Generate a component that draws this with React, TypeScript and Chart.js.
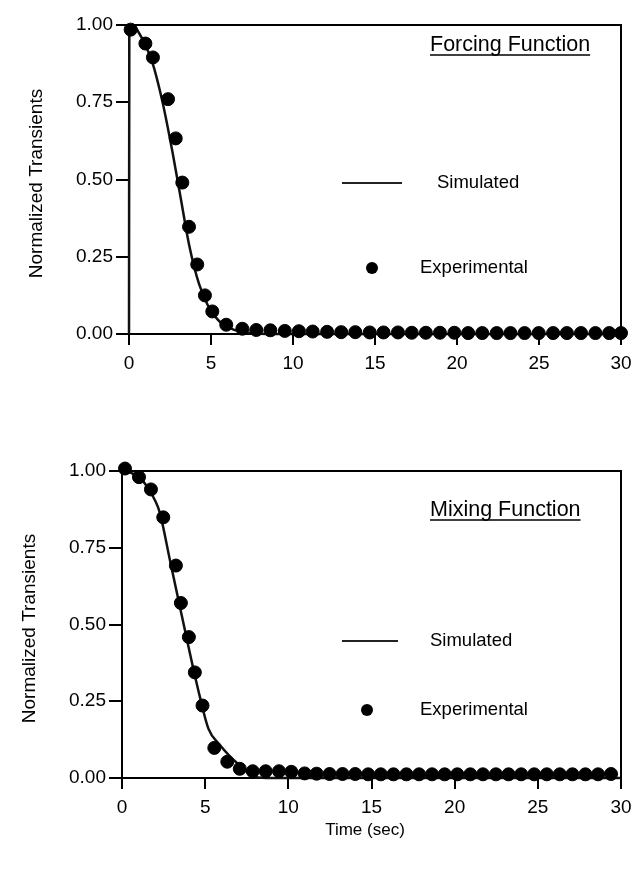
import React, { useEffect, useRef } from "react";
import { Chart, registerables } from "chart.js";
Chart.register(...registerables);

// ---------- DATA ----------
const xTickValues = [0, 5, 10, 15, 20, 25, 30];
const yTickValues = [0, 0.25, 0.5, 0.75, 1.0];
const legendLabels = ["Simulated", "Experimental"];
const panelTitles = ["Forcing Function", "Mixing Function"];
const yAxisTitle = "Normalized Transients";
const xAxisTitle = "Time (sec)";

const forcingSimTime = [0, 0.02, 0.25, 0.6, 1.0, 1.42, 2.03, 2.64, 3.15, 3.66, 4.27, 4.88, 5.49, 6.3, 7.1, 8.0, 10, 15, 20, 25, 30];
const forcingSimValue = [0, 0.99, 1.0, 0.975, 0.935, 0.88, 0.754, 0.592, 0.441, 0.29, 0.162, 0.085, 0.042, 0.016, 0.005, 0.001, 0, 0, 0, 0, 0];

const forcingExpTime = [0.1, 1.0, 1.46, 2.38, 2.85, 3.25, 3.66, 4.16, 4.63, 5.08, 5.93, 6.91, 7.76, 8.62, 9.5, 10.36, 11.2, 12.08, 12.94, 13.8, 14.68, 15.52, 16.4, 17.24, 18.1, 18.96, 19.84, 20.68, 21.54, 22.42, 23.26, 24.12, 24.98, 25.86, 26.7, 27.56, 28.44, 29.28, 30.0];
const forcingExpValue = [0.985, 0.94, 0.895, 0.76, 0.633, 0.49, 0.347, 0.225, 0.125, 0.073, 0.03, 0.017, 0.013, 0.012, 0.01, 0.009, 0.008, 0.007, 0.006, 0.006, 0.005, 0.005, 0.005, 0.004, 0.004, 0.004, 0.004, 0.003, 0.003, 0.003, 0.003, 0.003, 0.003, 0.003, 0.003, 0.003, 0.003, 0.003, 0.003];

const mixingSimTime = [0, 0.5, 1.08, 1.5, 1.98, 2.28, 2.88, 3.48, 4.08, 4.68, 5.2, 5.85, 6.5, 7.0, 7.5, 8.0, 9.0, 15, 20, 25, 30];
const mixingSimValue = [1.0, 0.995, 0.977, 0.95, 0.905, 0.863, 0.71, 0.558, 0.407, 0.265, 0.16, 0.11, 0.07, 0.045, 0.02, 0.003, 0, 0, 0, 0, 0];

const mixingExpTime = [0.18, 1.02, 1.74, 2.48, 3.24, 3.54, 4.02, 4.38, 4.84, 5.55, 6.33, 7.08, 7.86, 8.64, 9.44, 10.18, 10.98, 11.7, 12.48, 13.26, 14.02, 14.8, 15.56, 16.32, 17.1, 17.86, 18.64, 19.4, 20.16, 20.94, 21.7, 22.48, 23.24, 24.0, 24.78, 25.54, 26.32, 27.08, 27.86, 28.62, 29.4];
const mixingExpValue = [1.008, 0.98, 0.94, 0.849, 0.692, 0.57, 0.459, 0.344, 0.236, 0.098, 0.053, 0.03, 0.022, 0.022, 0.022, 0.02, 0.015, 0.014, 0.013, 0.013, 0.013, 0.012, 0.012, 0.012, 0.012, 0.012, 0.012, 0.012, 0.012, 0.012, 0.012, 0.012, 0.012, 0.012, 0.012, 0.012, 0.012, 0.012, 0.012, 0.012, 0.013];

// ---------- LAYOUT ----------
const FONT = "'Liberation Sans', Arial, Helvetica, sans-serif";

type Panel = {
  title: string;
  simT: number[]; simV: number[];
  expT: number[]; expV: number[];
  height: number;
  left: number; right: number; top: number; bottom: number;
  yTitleX: number;
  titleX: number; titleY: number;
  legLineX0: number; legLineX1: number; legSimTextX: number; legSimY: number;
  legDotX: number; legExpTextX: number; legExpY: number;
  showXTitle: boolean;
  xTitleX: number; xTitleY: number;
};

function makeChart(canvas: HTMLCanvasElement, p: Panel) {
  const pts = (t: number[], v: number[]) => t.map((x, i) => ({ x, y: v[i] }));
  const decor = {
    id: "decor",
    afterDraw(chart: any) {
      const ctx = chart.ctx as CanvasRenderingContext2D;
      const a = chart.chartArea;
      ctx.save();
      ctx.strokeStyle = "#000";
      ctx.lineWidth = 2;
      ctx.beginPath();
      ctx.moveTo(a.left, a.top);
      ctx.lineTo(a.right, a.top);
      ctx.lineTo(a.right, a.bottom);
      ctx.stroke();
      ctx.fillStyle = "#000";
      // y axis title
      ctx.save();
      ctx.translate(p.yTitleX, (a.top + a.bottom) / 2 + 4);
      ctx.rotate(-Math.PI / 2);
      ctx.font = `19px ${FONT}`;
      ctx.textAlign = "center";
      ctx.textBaseline = "middle";
      ctx.fillText(yAxisTitle, 0, 0);
      ctx.restore();
      // panel title underlined
      ctx.font = `21.5px ${FONT}`;
      ctx.textAlign = "left";
      ctx.textBaseline = "alphabetic";
      ctx.fillText(p.title, p.titleX, p.titleY);
      const w = ctx.measureText(p.title).width;
      ctx.lineWidth = 1.5;
      ctx.beginPath();
      ctx.moveTo(p.titleX, p.titleY + 4);
      ctx.lineTo(p.titleX + w, p.titleY + 4);
      ctx.stroke();
      // legend
      ctx.lineWidth = 2;
      ctx.strokeStyle = "#222";
      ctx.beginPath();
      ctx.moveTo(p.legLineX0, p.legSimY);
      ctx.lineTo(p.legLineX1, p.legSimY);
      ctx.stroke();
      ctx.font = `18.5px ${FONT}`;
      ctx.textBaseline = "middle";
      ctx.fillText(legendLabels[0], p.legSimTextX, p.legSimY);
      ctx.beginPath();
      ctx.arc(p.legDotX, p.legExpY, 6, 0, Math.PI * 2);
      ctx.fillStyle = "#000";
      ctx.fill();
      ctx.fillText(legendLabels[1], p.legExpTextX, p.legExpY);
      if (p.showXTitle) {
        ctx.font = `17px ${FONT}`;
        ctx.textAlign = "center";
        ctx.fillText(xAxisTitle, p.xTitleX, p.xTitleY);
      }
      ctx.restore();
    },
  };

  return new Chart(canvas, {
    type: "scatter",
    data: {
      datasets: [
        {
          label: legendLabels[0],
          data: pts(p.simT, p.simV),
          showLine: true,
          borderColor: "#111",
          borderWidth: 2.5,
          pointRadius: 0,
          cubicInterpolationMode: "monotone",
          clip: false as any,
          order: 2,
        },
        {
          label: legendLabels[1],
          data: pts(p.expT, p.expV),
          showLine: false,
          backgroundColor: "#000",
          borderColor: "#000",
          pointRadius: 6.5,
          clip: false as any,
          order: 1,
        },
      ],
    },
    options: {
      animation: false,
      responsive: false,
      maintainAspectRatio: false,
      layout: { padding: { top: p.top, right: 636 - p.right, left: 0, bottom: 0 } },
      plugins: { legend: { display: false }, tooltip: { enabled: false } },
      scales: {
        x: {
          type: "linear",
          min: 0,
          max: 30,
          afterBuildTicks: (s: any) => { s.ticks = xTickValues.map((v) => ({ value: v })); },
          afterFit: (s: any) => {
            s.height = p.height - p.bottom;
            s.paddingLeft = 0;
            s.paddingRight = 0;
          },
          ticks: {
            color: "#000",
            font: { family: FONT, size: 19 },
            padding: 7,
            maxRotation: 0,
            callback: (v: any) => String(v),
          },
          grid: { display: true, drawOnChartArea: false, drawTicks: true, tickLength: 11, color: "#000", lineWidth: 2 },
          border: { display: true, color: "#000", width: 2 },
        },
        y: {
          type: "linear",
          min: 0,
          max: 1,
          afterBuildTicks: (s: any) => { s.ticks = yTickValues.map((v) => ({ value: v })); },
          afterFit: (s: any) => {
            s.width = p.left;
            s.paddingTop = 0;
            s.paddingBottom = 0;
          },
          ticks: {
            color: "#000",
            font: { family: FONT, size: 19 },
            padding: 3,
            callback: (v: any) => Number(v).toFixed(2),
          },
          grid: { display: true, drawOnChartArea: false, drawTicks: true, tickLength: 13, color: "#000", lineWidth: 2 },
          border: { display: true, color: "#000", width: 2 },
        },
      },
    },
    plugins: [decor],
  } as any);
}

const topPanel: Panel = {
  title: panelTitles[0],
  simT: forcingSimTime, simV: forcingSimValue,
  expT: forcingExpTime, expV: forcingExpValue,
  height: 400, left: 129, right: 621, top: 25, bottom: 334,
  yTitleX: 37,
  titleX: 430, titleY: 51,
  legLineX0: 342, legLineX1: 402, legSimTextX: 437, legSimY: 183,
  legDotX: 372, legExpTextX: 420, legExpY: 268,
  showXTitle: false, xTitleX: 0, xTitleY: 0,
};

const bottomPanel: Panel = {
  title: panelTitles[1],
  simT: mixingSimTime, simV: mixingSimValue,
  expT: mixingExpTime, expV: mixingExpValue,
  height: 470, left: 122, right: 621, top: 71, bottom: 378,
  yTitleX: 30,
  titleX: 430, titleY: 116,
  legLineX0: 342, legLineX1: 398, legSimTextX: 430, legSimY: 241,
  legDotX: 367, legExpTextX: 420, legExpY: 310,
  showXTitle: true, xTitleX: 365, xTitleY: 430,
};

function Panel({ p, top }: { p: Panel; top: number }) {
  const ref = useRef<HTMLCanvasElement | null>(null);
  useEffect(() => {
    if (!ref.current) return;
    const c = makeChart(ref.current, p);
    return () => c.destroy();
  }, []);
  return (
    <canvas
      ref={ref}
      width={636}
      height={p.height}
      style={{ position: "absolute", left: 0, top, width: 636, height: p.height }}
    />
  );
}

export default function App() {
  useEffect(() => {
    document.body.style.margin = "0";
    document.body.style.background = "#fff";
  }, []);
  return (
    <div style={{ position: "relative", width: 636, height: 870, background: "#fff", overflow: "hidden" }}>
      <Panel p={topPanel} top={0} />
      <Panel p={bottomPanel} top={400} />
    </div>
  );
}
